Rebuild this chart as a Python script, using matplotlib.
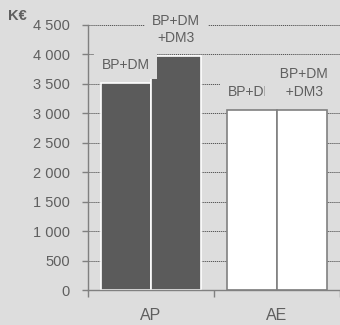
import matplotlib.pyplot as plt
import numpy as np
from matplotlib.ticker import FuncFormatter, FixedLocator

# dati (K€)
categories = ['AP', 'AE']
bp_dm = [3520, 3060]
bp_dm_dm3 = [3970, 3060]
series_labels = ['BP+DM', 'BP+DM\n+DM3']

bg = '#dddddd'
txt = '#5f5f5f'
plt.rcParams['font.family'] = ['Liberation Sans', 'DejaVu Sans']

fig = plt.figure(figsize=(3.4, 3.25), dpi=100, facecolor=bg)
ax = fig.add_axes([88/340, 1-290/325, 1-88/340, 265/325])
ax.set_facecolor(bg)

x = np.arange(len(categories))
w = 0.4
fills = ['#5b5b5b', 'white']
edges = ['white', '#808080']

for i, cat in enumerate(categories):
    ax.bar(x[i] - w/2, bp_dm[i], w, color=fills[i], edgecolor=edges[i], lw=1.2, zorder=2)
    ax.bar(x[i] + w/2, bp_dm_dm3[i], w, color=fills[i], edgecolor=edges[i], lw=1.2, zorder=2)

# etichette con sfondo (coprono griglia e barre come nell'originale)
for i in range(len(categories)):
    ax.annotate(series_labels[0], (x[i] - w/2, bp_dm[i]), xytext=(0, 8), textcoords='offset points',
                ha='center', va='bottom', fontsize=10, color=txt, zorder=4,
                bbox=dict(boxstyle='square,pad=0.55', fc=bg, ec='none'))
    lab2 = series_labels[1]
    if i == 1:
        lab2 = '\n'.join('  ' + s + ' ' for s in lab2.split('\n'))
    ax.annotate(lab2, (x[i] + w/2, bp_dm_dm3[i]), xytext=(0, 8), textcoords='offset points',
                ha='center', va='bottom', fontsize=10, color=txt, zorder=5, linespacing=1.3,
                multialignment='center',
                bbox=dict(boxstyle='square,pad=0.55', fc=bg, ec='none'))

ax.set_ylim(0, 4500)
ax.set_xlim(-0.5, 1.5)
ax.set_yticks(np.arange(0, 4501, 500))
ax.yaxis.set_major_formatter(FuncFormatter(lambda v, p: f'{v:,.0f}'.replace(',', ' ')))
ax.yaxis.grid(True, color='#555555', ls=(0, (1.2, 0.8)), lw=0.7, zorder=1)
ax.set_axisbelow(True)

ax.xaxis.set_major_locator(FixedLocator([-0.5, 0.5, 1.5]))
ax.xaxis.set_major_formatter(FuncFormatter(lambda v, p: ''))
ax.xaxis.set_minor_locator(FixedLocator(x))
ax.set_xticklabels(categories, minor=True)
ax.tick_params(axis='x', which='minor', length=0, pad=13, labelsize=11.5, labelcolor=txt)
ax.tick_params(axis='x', which='major', length=5, color='#808080', width=1)
ax.tick_params(axis='y', length=4, color='#808080', width=1, pad=9, labelsize=10.5, labelcolor=txt)

for s in ['top', 'right']:
    ax.spines[s].set_visible(False)
for s in ['left', 'bottom']:
    ax.spines[s].set_color('#808080')
    ax.spines[s].set_linewidth(1)

fig.text(8/340, 1-20/325, 'K€', fontsize=10.5, fontweight='bold', color=txt, ha='left', va='baseline')

fig.savefig('out.png', dpi=100, facecolor=bg)
